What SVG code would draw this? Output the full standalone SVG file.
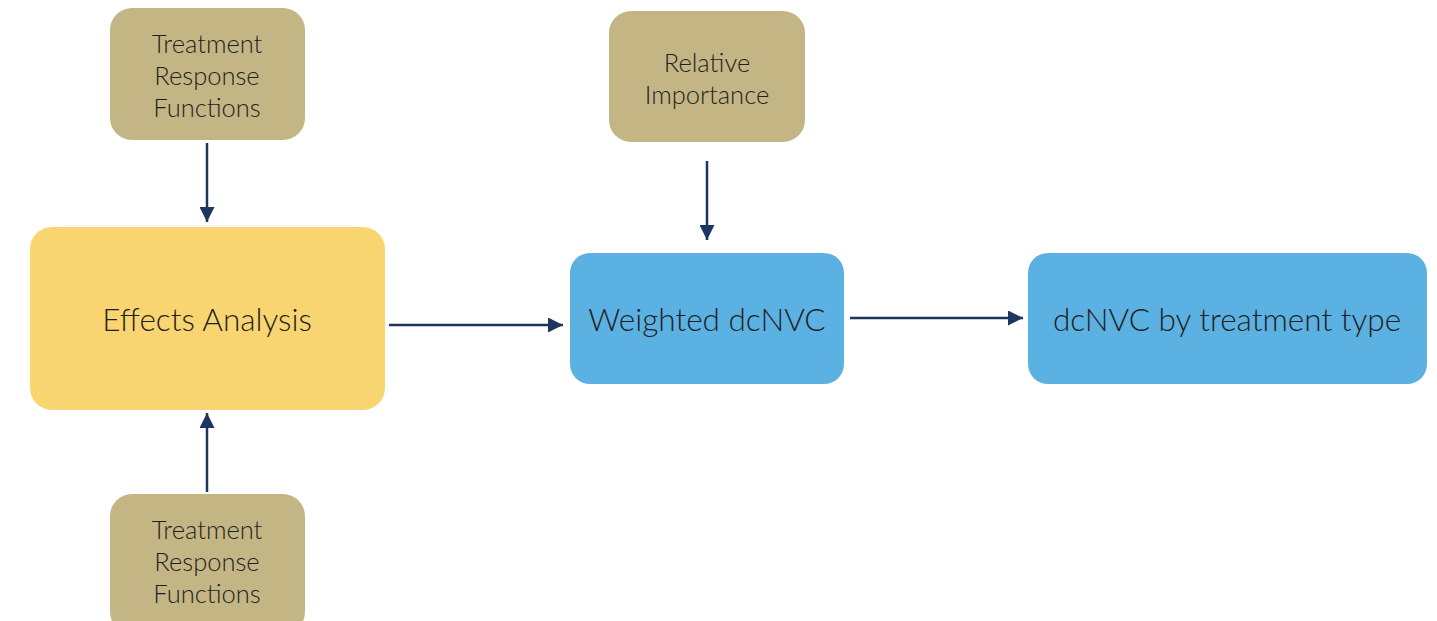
<svg xmlns="http://www.w3.org/2000/svg" width="1437" height="621" viewBox="0 0 1437 621">
<style>
.tan{fill:#c4b584}
.yel{fill:#f9d572}
.blu{fill:#5bb1e1}
text{font-family:"Lato","Open Sans","Liberation Sans",sans-serif;font-weight:300;fill:#1f1f1f;text-anchor:middle}
.s{font-size:25.5px}
.l{font-size:31.5px}
.c{stroke:#1c3561;stroke-width:2.5;fill:none;marker-end:url(#ah)}
</style>
<defs>
<marker id="ah" viewBox="0 0 10 10" refX="10" refY="5" markerWidth="6.4" markerHeight="6" orient="auto" markerUnits="strokeWidth">
<path d="M0,0 L10,5 L0,10 z" fill="#1c3561"/>
</marker>
</defs>
<rect width="1437" height="621" fill="#fff"/>
<g id="trf-top">
<rect class="tan" x="110" y="8" width="195" height="132" rx="22"/>
<text class="s" x="207" y="53">Treatment</text>
<text class="s" x="207" y="85">Response</text>
<text class="s" x="207" y="117">Functions</text>
</g>
<g id="effects">
<rect class="yel" x="30" y="227" width="355" height="183" rx="22"/>
<text class="l" x="207" y="331">Effects Analysis</text>
</g>
<g id="trf-bottom">
<rect class="tan" x="110" y="494" width="195" height="140" rx="22"/>
<text class="s" x="207" y="539">Treatment</text>
<text class="s" x="207" y="571">Response</text>
<text class="s" x="207" y="603">Functions</text>
</g>
<g id="relimp">
<rect class="tan" x="609" y="11" width="196" height="131" rx="22"/>
<text class="s" x="707" y="72">Relative</text>
<text class="s" x="707" y="104">Importance</text>
</g>
<g id="weighted">
<rect class="blu" x="570" y="253" width="274" height="131" rx="20"/>
<text class="l" x="707" y="331">Weighted dcNVC</text>
</g>
<g id="bytype">
<rect class="blu" x="1028" y="253" width="399" height="131" rx="20"/>
<text class="l" x="1227" y="331">dcNVC by treatment type</text>
</g>
<g id="connectors">
<line class="c" x1="207" y1="143" x2="207" y2="222"/>
<line class="c" x1="207" y1="492" x2="207" y2="413"/>
<line class="c" x1="707" y1="161" x2="707" y2="240"/>
<line class="c" x1="389" y1="325" x2="563" y2="325"/>
<line class="c" x1="850" y1="318" x2="1023" y2="318"/>
</g>
</svg>
